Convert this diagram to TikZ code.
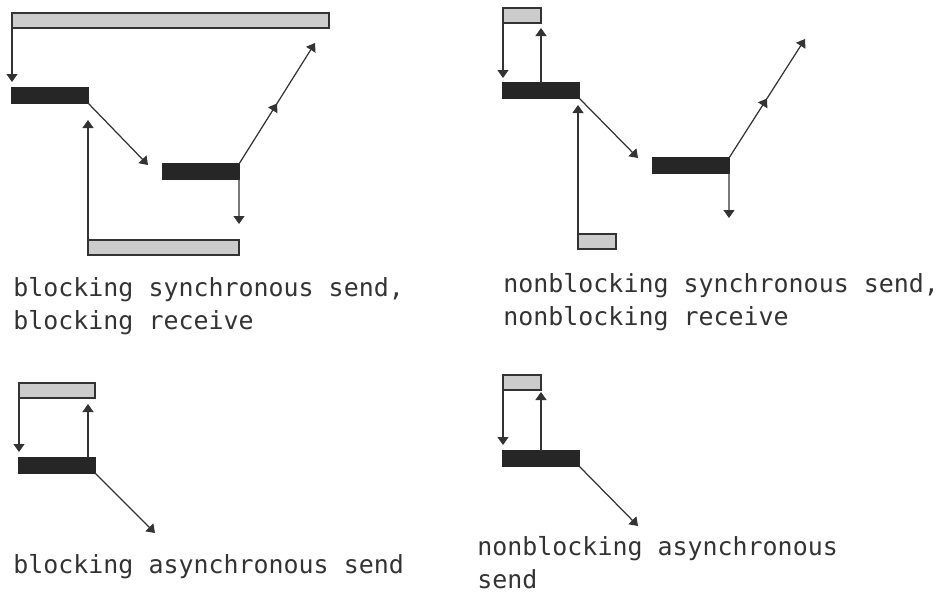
\documentclass[tikz,border=0pt]{standalone}
\usepackage{fontspec}
\setmonofont{DejaVu Sans Mono}
\usepackage{tikz}
\usetikzlibrary{arrows.meta}
\usetikzlibrary{decorations.markings}
\tikzset{>={Triangle[width=0.22cm,length=0.16cm]}}
\usepackage{xcolor}
\definecolor{inkcol}{HTML}{333333}
\definecolor{busycol}{HTML}{262626}
\definecolor{bufcol}{HTML}{CCCCCC}
\tikzstyle{busy}=[fill=busycol,draw=busycol,line width=0.7pt,inner sep=0,outer sep=0,minimum height=0.3cm,anchor=north west]
\tikzstyle{buffer}=[fill=bufcol,draw=inkcol,line width=0.7pt,inner sep=0,outer sep=0,minimum height=0.3cm,anchor=north west]
\tikzstyle{msg}=[draw=inkcol,->,line width=0.7pt]
\tikzstyle{midmsg}=[msg,postaction={decorate},decoration={markings,mark=at position 0.5 with {\arrow{>}}}]
\tikzstyle{caption}=[inkcol,anchor=base west,align=left,inner sep=0,font=\fontsize{14.2}{18.5}\selectfont\ttfamily]

\begin{document}
\begin{tikzpicture}[x=0.02cm,y=-0.02cm]
  \def\barw{1.52cm}
  \def\bufw{0.76cm}
  \useasboundingbox (0,0) rectangle (941,592);
  % blocking synchronous send, blocking receive
  \node[buffer,minimum width=6.34cm] (sbuf) at (12,13) {};
  \node[busy,minimum width=\barw] (send) at (12,88) {};
  \node[busy,minimum width=\barw] (recv) at (163,164) {};
  \node[buffer,minimum width=3.02cm] (rbuf) at (88,240) {};
  \coordinate (a1) at (12,82);
  \coordinate (a2) at (148,165);
  \coordinate (a3) at (239,224);
  \coordinate (a4) at (315,43);
  \coordinate (a5) at (88,120);
  \draw[msg] (sbuf.south west) -- (a1);
  \draw[msg] (send.south east) -- (a2);
  \draw[msg] (recv.south east) -- (a3);
  \draw[midmsg] (recv.north east) -- (a4);
  \draw[msg] (rbuf.north west) -- (a5);
  % base anchor sits on the last line
  \node[caption] (cap1) at (13,329) {blocking synchronous send,\\blocking receive};
  % nonblocking synchronous send, nonblocking receive
  \node[buffer,minimum width=\bufw] (nsbuf) at (503,8) {};
  \node[busy,minimum width=\barw] (nsend) at (503,83) {};
  \node[busy,minimum width=\barw] (nrecv) at (653,158) {};
  \node[buffer,minimum width=\bufw] (nrbuf) at (578,234) {};
  \coordinate (b1) at (503,78);
  \coordinate (b2) at (541,28);
  \coordinate (b3) at (638,158);
  \coordinate (b4) at (729,218);
  \coordinate (b5) at (805,39);
  \coordinate (b6) at (578,105);
  \draw[msg] (nsbuf.south west) -- (b1);
  \draw[msg] (b2 |- nsend.north) -- (b2);
  \draw[msg] (nsend.south east) -- (b3);
  \draw[msg] (nrecv.south east) -- (b4);
  \draw[midmsg] (nrecv.north east) -- (b5);
  \draw[msg] (nrbuf.north west) -- (b6);
  \node[caption] (cap2) at (503,325) {nonblocking synchronous send,\\nonblocking receive};
  % blocking asynchronous send
  \node[buffer,minimum width=\barw] (absbuf) at (19,383) {};
  \node[busy,minimum width=\barw] (absend) at (19,458) {};
  \coordinate (c1) at (19,452);
  \coordinate (c2) at (88,404);
  \coordinate (c3) at (155,533);
  \draw[msg] (absbuf.south west) -- (c1);
  \draw[msg] (c2 |- absend.north) -- (c2);
  \draw[msg] (absend.south east) -- (c3);
  \node[caption] (cap3) at (13,573) {blocking asynchronous send};
  % nonblocking asynchronous send
  \node[buffer,minimum width=\bufw] (nabuf) at (503,375) {};
  \node[busy,minimum width=\barw] (nasend) at (503,451) {};
  \coordinate (d1) at (503,445);
  \coordinate (d2) at (541,392);
  \coordinate (d3) at (638,526);
  \draw[msg] (nabuf.south west) -- (d1);
  \draw[msg] (d2 |- nasend.north) -- (d2);
  \draw[msg] (nasend.south east) -- (d3);
  \node[caption] (cap4) at (477,588) {nonblocking asynchronous\\send};
\end{tikzpicture}
\end{document}
